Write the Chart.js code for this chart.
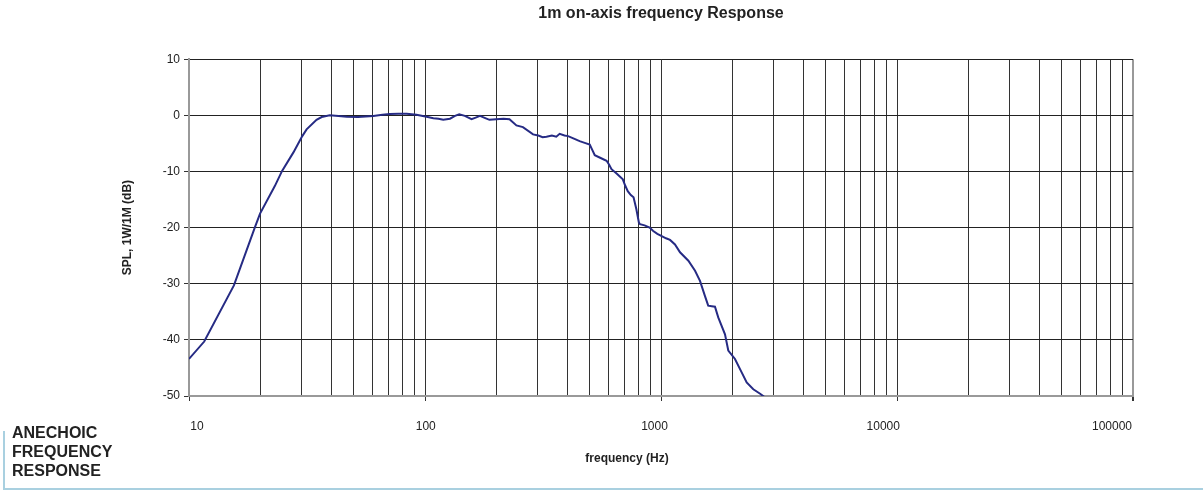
<!DOCTYPE html>
<html>
<head>
<meta charset="utf-8">
<script src="https://cdn.jsdelivr.net/npm/chart.js@4/dist/chart.umd.min.js"></script>
<style>
  html, body { margin: 0; padding: 0; background: #fff; }
  #wrap { position: absolute; left: 0; top: 0; width: 1203px; height: 492px; }
  #note {
    position: absolute; left: 12px; top: 423px;
    font: bold 16px "Liberation Sans", Arial, sans-serif; line-height: 19px; color: #222;
  }
  #frameV { position: absolute; left: 3px; top: 431px; width: 2px; height: 58px; background: #a9d0e0; }
  #frameH { position: absolute; left: 3px; top: 488px; width: 1200px; height: 2px; background: #a9d0e0; }
</style>
</head>
<body>
<div id="wrap">
  <canvas id="responseChart" width="1203" height="492"></canvas>
  <div id="note">ANECHOIC<br>FREQUENCY<br>RESPONSE</div>
  <div id="frameV"></div>
  <div id="frameH"></div>
</div>
<script>
// 1m on-axis frequency response
const freqHz = [
  10, 11.6, 15.5, 19.0, 20, 23.1, 24.8, 27.7, 30.2, 31.5, 34.7, 36.5, 39.5, 43, 46.6, 52,
  60.4, 66, 71, 77, 83.6, 92, 101.6, 108.5, 114, 119.5, 127.6, 134, 139.7, 147.5, 157.5,
  164, 171, 180, 187.5, 200, 215, 228, 244, 260, 287, 302, 315, 327, 345, 360, 372, 390,
  404, 430, 452, 475, 499, 512, 524, 555, 588, 603, 617, 650, 689, 705, 723, 745, 765,
  786, 806, 815, 852, 895, 927, 965, 1007, 1050, 1092, 1146, 1204, 1306, 1394, 1463,
  1536, 1585, 1640, 1693, 1748, 1867, 1928, 2058, 2197, 2307, 2461, 2630, 2750
];
const splDb = [
  -43.4, -40.3, -30.3, -20.0, -17.5, -12.6, -9.9, -6.6, -3.7, -2.5, -0.8, -0.3, 0, -0.1, -0.25, -0.3,
  -0.1, 0.1, 0.25, 0.3, 0.3, 0.1, -0.25, -0.5, -0.6, -0.8, -0.6, -0.1, 0.2, -0.1, -0.7,
  -0.4, -0.1, -0.5, -0.8, -0.7, -0.6, -0.7, -1.8, -2.1, -3.4, -3.6, -3.9, -3.8, -3.6, -3.8, -3.3, -3.6,
  -3.7, -4.2, -4.6, -4.9, -5.2, -6.2, -7.1, -7.6, -8.1, -8.8, -9.6, -10.4, -11.4, -12.5, -13.5, -14.2, -14.6,
  -16.7, -19.1, -19.4, -19.6, -20.0, -20.6, -21.1, -21.5, -21.9, -22.2, -23.0, -24.4, -25.9, -27.7, -29.5,
  -32.2, -33.9, -34.0, -34.1, -36.0, -39.0, -41.9, -43.4, -45.8, -47.6, -48.8, -49.6, -50.2
];

const decadeLabels = [10, 100, 1000, 10000, 100000];
const minorSteps = [2, 3, 4, 5, 6, 7, 8, 9];
const yTicks = [-50, -40, -30, -20, -10, 0, 10];

const fontFamily = '"Liberation Sans", Arial, sans-serif';

// all vertical grid lines: decades + 2..9 within each decade
const xGridTicks = [];
decadeLabels.forEach((d, i) => {
  xGridTicks.push({ value: d, major: true });
  if (i < decadeLabels.length - 1) minorSteps.forEach(m => xGridTicks.push({ value: d * m, major: false }));
});

// Excel style decade labels + axis title, spread under the axis like the original
const decadeLabelPlugin = {
  id: 'decadeLabels',
  afterDraw(chart) {
    const { ctx, chartArea } = chart;
    const n = decadeLabels.length - 1;
    const start = chartArea.left + 8;
    const span = chartArea.width - 29;
    ctx.save();
    ctx.fillStyle = '#222';
    ctx.textAlign = 'center';
    ctx.textBaseline = 'middle';
    ctx.font = '12px ' + fontFamily;
    decadeLabels.forEach((v, i) => ctx.fillText(String(v), start + span * i / n, chartArea.bottom + 31));
    ctx.font = 'bold 12px ' + fontFamily;
    ctx.fillText('frequency (Hz)', (chartArea.left + chartArea.right) / 2 - 34, chartArea.bottom + 63);
    ctx.restore();
  }
};

const ctx = document.getElementById('responseChart');
new Chart(ctx, {
  type: 'line',
  data: {
    datasets: [{
      label: 'SPL',
      data: freqHz.map((f, i) => ({ x: f, y: splDb[i] })),
      borderColor: '#262b84',
      borderWidth: 2,
      pointRadius: 0,
      tension: 0,
      fill: false
    }]
  },
  options: {
    responsive: false,
    animation: false,
    layout: { padding: { left: 116, right: 70, top: 0, bottom: 0 } },
    plugins: {
      legend: { display: false },
      tooltip: { enabled: false },
      title: {
        display: true,
        text: '1m on-axis frequency Response',
        color: '#222',
        fullSize: false,
        font: { family: fontFamily, size: 16, weight: 'bold' },
        padding: { top: 4, bottom: 36 }
      }
    },
    scales: {
      x: {
        type: 'logarithmic',
        min: 10,
        max: 100000,
        afterBuildTicks: scale => { scale.ticks = xGridTicks.map(t => ({ ...t })); },
        afterFit: scale => { scale.height = 96; },
        ticks: { display: false },
        grid: {
          color: ctx => ctx.tick && ctx.tick.value === 100000 ? '#999' : '#333',
          lineWidth: ctx => ctx.tick && ctx.tick.value === 100000 ? 2 : 1,
          tickColor: ctx => ctx.tick && ctx.tick.major ? '#333' : 'rgba(0,0,0,0)',
          tickLength: 5
        },
        border: { color: '#999', width: 2 },
        title: { display: false }
      },
      y: {
        min: -50,
        max: 10,
        afterBuildTicks: scale => { scale.ticks = yTicks.map(v => ({ value: v })); },
        afterFit: scale => { scale.width = 73; },
        ticks: {
          color: '#222',
          font: { family: fontFamily, size: 12 },
          padding: 4
        },
        grid: { color: '#222', tickLength: 5, tickColor: '#333' },
        border: { color: '#999', width: 2 },
        title: {
          display: true,
          text: 'SPL, 1W/1M (dB)',
          color: '#222',
          font: { family: fontFamily, size: 12, weight: 'bold' },
          padding: { top: 4, bottom: 0 }
        }
      }
    }
  },
  plugins: [decadeLabelPlugin]
});
</script>
</body>
</html>
